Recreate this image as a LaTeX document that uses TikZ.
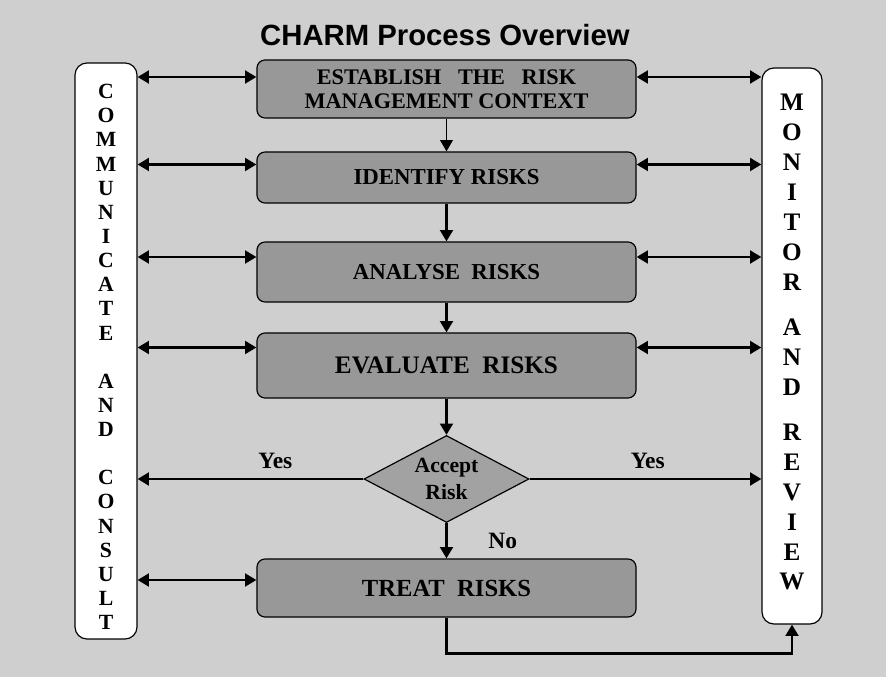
\documentclass[tikz,border=0pt]{standalone}
\usepackage{fontspec}
\setmainfont{Liberation Serif}
\newfontfamily\titlefont{Liberation Sans}
\usetikzlibrary{arrows.meta,positioning,shapes.geometric}
\definecolor{bggray}{RGB}{207,207,207}
\definecolor{boxgray}{RGB}{152,152,152}
\definecolor{diagray}{RGB}{162,162,162}

\tikzset{
  stage/.style={draw,fill=boxgray,line width=1pt,rounded corners=0.24cm,minimum width=11.37cm,align=center,
    font=\bfseries\fontsize{19.5}{21}\selectfont},
  side/.style={draw,fill=white,line width=1pt,rounded corners=0.36cm},
  sidetext/.style={align=center,inner sep=0pt},
  decision/.style={diamond,aspect=1.9,draw,fill=diagray,line width=1pt,minimum width=4.95cm,minimum height=2.61cm,
    inner sep=0pt,align=center,font=\bfseries\fontsize{18.5}{23}\selectfont},
  answer/.style={font=\bfseries\fontsize{20}{22}\selectfont},
  flow/.style={->,line width=2.4pt},
  link/.style={<->,line width=2.4pt}
}

\begin{document}
\begin{tikzpicture}[x=0.03cm,y=-0.03cm,>={Triangle[length=0.34cm,width=0.38cm]}]
  \fill[bggray] (0,0) rectangle (886,677);
  \useasboundingbox (0,0) rectangle (886,677);

  \node[font=\titlefont\bfseries\fontsize{25}{30}\selectfont] (title) at (445,35) {CHARM Process Overview};

  \node[side,minimum width=1.86cm,minimum height=17.28cm] (comm) at (106,351) {};
  \node[sidetext,font=\bfseries\fontsize{18.5}{20.6}\selectfont] (commtxt) at (106,357)
    {C\\O\\M\\M\\U\\N\\I\\C\\A\\T\\E\\[20.6pt]A\\N\\D\\[20.6pt]C\\O\\N\\S\\U\\L\\T};
  \node[side,minimum width=1.8cm,minimum height=16.68cm] (mon) at (792,346) {};
  \node[sidetext,font=\bfseries\fontsize{21.5}{25.6}\selectfont] (montxt) at (792,342)
    {M\\O\\N\\I\\T\\O\\R\\[12.8pt]A\\N\\D\\[12.8pt]R\\E\\V\\I\\E\\W};

  \node[stage,minimum height=1.74cm,font=\bfseries\fontsize{19}{20.5}\selectfont] (est) at (446.5,89)
    {ESTABLISH\ \ \ THE\ \ \ RISK\\MANAGEMENT CONTEXT};
  \node[stage,minimum height=1.53cm] (ident) at (446.5,177.5) {IDENTIFY RISKS};
  \node[stage,minimum height=1.8cm]  (anal)  at (446.5,272)   {ANALYSE\ \ RISKS};
  \node[stage,minimum height=1.95cm,font=\bfseries\fontsize{21.5}{24}\selectfont] (eval) at (446.5,365.5)
    {EVALUATE\ \ RISKS};
  \node[decision]                    (acc)   at (446.5,479)   {Accept\\Risk};
  \node[stage,minimum height=1.74cm,font=\bfseries\fontsize{21}{24}\selectfont] (treat) at (446.5,588)
    {TREAT\ \ RISKS};

  \draw[->,line width=1.5pt] (est) -- (ident);
  \draw[flow] (ident) -- (anal);
  \draw[flow] (anal) -- (eval);
  \draw[flow] (eval) -- (acc);
  \draw[flow] (acc) -- (treat) node[midway,right=1.1cm,answer] {No};
  \draw[flow] (acc.west) -- (acc.west -| comm.east) node[pos=0.39,above=4pt,answer] {Yes};
  \draw[flow] (acc.east) -- (acc.east -| mon.west) node[pos=0.51,above=4pt,answer] {Yes};
  \draw[flow] (treat.south) -- ++(0,36) -| (mon.south);

  \foreach \b/\dy in {est/12,ident/13,anal/15,eval/18} {
    \coordinate (l) at ([yshift=\dy*0.03cm]\b.west);
    \coordinate (r) at ([yshift=\dy*0.03cm]\b.east);
    \draw[link] (comm.east |- l) -- (l);
    \draw[link] (r) -- (r -| mon.west);
  }
  \coordinate (t) at ([yshift=8*0.03cm]treat.west);
  \draw[link] (comm.east |- t) -- (t);
\end{tikzpicture}
\end{document}
